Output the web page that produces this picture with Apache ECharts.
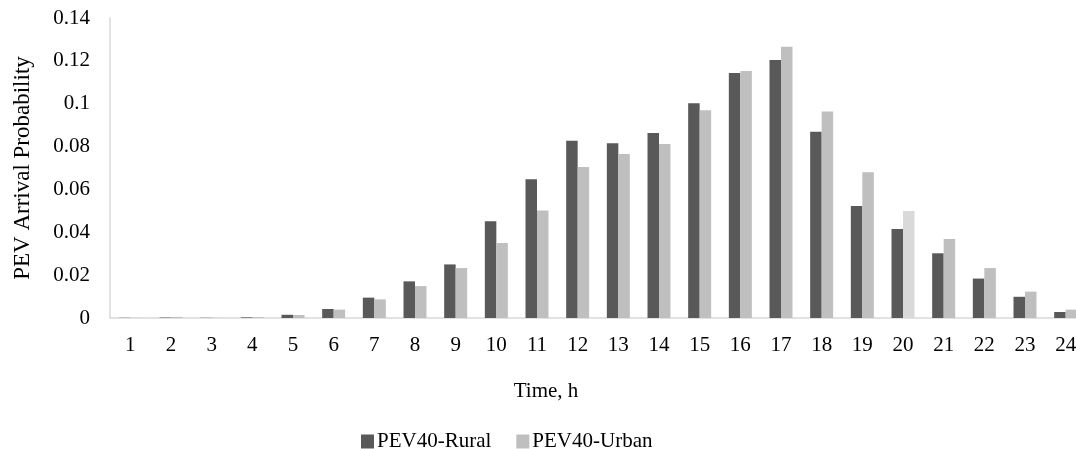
<!DOCTYPE html>
<html>
<head>
<meta charset="utf-8">
<script src="https://cdn.jsdelivr.net/npm/echarts@6/dist/echarts.min.js"></script>
<style>
  html, body { margin: 0; padding: 0; background: #fff; }
  #chart { width: 1076px; height: 449px; }
</style>
</head>
<body>
<div id="chart"></div>
<script>
// Hour of day
const hours = ['1','2','3','4','5','6','7','8','9','10','11','12','13','14','15','16','17','18','19','20','21','22','23','24'];
// Arrival probability per hour, rural profile
const rural = [0.0001, 0.0002, 0.0001, 0.0003, 0.0015, 0.0042, 0.0095, 0.0171, 0.0250, 0.0451, 0.0647, 0.0827,
               0.0815, 0.0863, 0.1002, 0.1143, 0.1204, 0.0869, 0.0523, 0.0415, 0.0302, 0.0184, 0.0099, 0.0028];
// Arrival probability per hour, urban profile
const urban = [0.0001, 0.0005, 0.0001, 0.0004, 0.0014, 0.0039, 0.0087, 0.0149, 0.0233, 0.0350, 0.0502, 0.0705,
               0.0765, 0.0812, 0.0969, 0.1153, 0.1266, 0.0964, 0.0680, 0.0499, 0.0369, 0.0233, 0.0123, 0.0039];
const yTicks = ['0', '0.02', '0.04', '0.06', '0.08', '0.1', '0.12', '0.14'];

const serif = '"Liberation Serif", "DejaVu Serif", serif';
const chart = echarts.init(document.getElementById('chart'), null, { renderer: 'canvas' });

chart.setOption({
  animation: false,
  backgroundColor: '#ffffff',
  textStyle: { fontFamily: serif, color: '#000' },
  // the last category runs slightly past the right edge of the canvas
  grid: { left: 110, top: 18, width: 976, height: 300, containLabel: false, outerBoundsMode: 'none' },
  legend: {
    data: ['PEV40-Rural', 'PEV40-Urban'],
    left: 356, top: 426,
    itemWidth: 13, itemHeight: 14, itemGap: 25,
    icon: 'rect',
    textStyle: { fontFamily: serif, fontSize: 21, color: '#000', padding: [0, 0, 0, -2] }
  },
  xAxis: {
    type: 'category',
    data: hours,
    name: 'Time, h',
    nameLocation: 'middle',
    nameGap: 63,
    // axis title sits left of the plot centre
    nameTextStyle: { fontFamily: serif, fontSize: 21, color: '#000', padding: [0, 104, 0, 0] },
    axisLine: { lineStyle: { color: '#d9d9d9', width: 1.5 } },
    axisTick: { show: false },
    axisLabel: { fontFamily: serif, fontSize: 21, color: '#000', margin: 17 }
  },
  yAxis: {
    type: 'value',
    min: 0, max: 0.14, interval: 0.02,
    name: 'PEV Arrival Probability',
    nameLocation: 'middle',
    nameGap: 76,
    nameTextStyle: { fontFamily: serif, fontSize: 23, color: '#000' },
    axisLine: { show: true, lineStyle: { color: '#d9d9d9', width: 1.5 } },
    axisTick: { show: false },
    splitLine: { show: false },
    axisLabel: {
      fontFamily: serif, fontSize: 21, color: '#000', margin: 20,
      formatter: v => yTicks[Math.round(v / 0.02)]
    }
  },
  series: [
    {
      name: 'PEV40-Rural', type: 'bar', data: rural,
      barWidth: 11.5, barGap: '0%',
      itemStyle: { color: '#595959' }
    },
    {
      name: 'PEV40-Urban', type: 'bar',
      data: urban.map((v, i) => i === 19 ? { value: v, itemStyle: { color: '#d9d9d9' } } : v),
      barWidth: 11.5,
      itemStyle: { color: '#bfbfbf' }
    }
  ]
});
</script>
</body>
</html>
